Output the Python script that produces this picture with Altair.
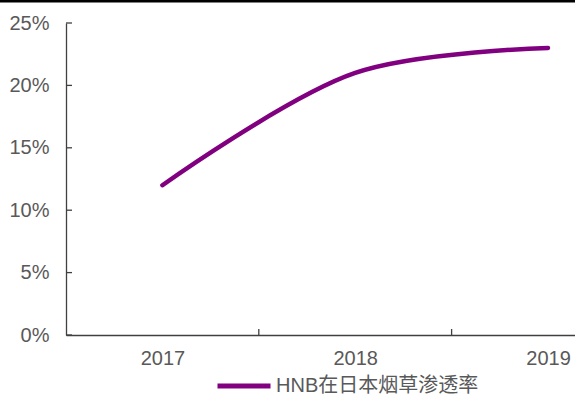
import altair as alt
import pandas as pd

years = [2017, 2018, 2019]
rates = [0.12, 0.21, 0.23]
series_name = "HNB在日本烟草渗透率"
y_ticks = [0, 0.05, 0.10, 0.15, 0.20, 0.25]
x_between_ticks = [2017.5, 2018.5]

W, H = 509, 312
FONT = "Liberation Sans, Arial, Noto Sans CJK SC"
GRAY = "#595959"
AXIS = "#404040"

df = pd.DataFrame({"year": years, "rate": rates, "series": [series_name] * len(years)})

xscale = alt.Scale(domain=[2016.5, 2019.14], nice=False, zero=False)
yscale = alt.Scale(domain=[0, 0.25], nice=False)

line = alt.Chart(df).mark_line(interpolate="catmull-rom", strokeWidth=4.5, strokeCap="round").encode(
    x=alt.X("year:Q", scale=xscale, axis=alt.Axis(
        values=years, format="d", tickSize=0, labelPadding=13, title=None, grid=False,
        domainColor=AXIS, domainWidth=1.3, labelColor=GRAY, labelFontSize=20, labelFont=FONT,
        labelFlush=False)),
    y=alt.Y("rate:Q", scale=yscale, axis=alt.Axis(
        values=y_ticks, format=".0%", tickSize=0, labelPadding=17, title=None, grid=False,
        domainColor=AXIS, domainWidth=1.3, labelColor=GRAY, labelFontSize=20, labelFont=FONT)),
    color=alt.Color("series:N", scale=alt.Scale(range=["#800080"]), legend=alt.Legend(
        title=None, orient="none", legendX=149, legendY=334, symbolType="stroke",
        symbolSize=2809, symbolStrokeWidth=5, labelFontSize=20, labelColor=GRAY,
        labelFont=FONT, labelOffset=3, padding=0, labelLimit=0)),
)

xt = alt.Chart(pd.DataFrame({"x": x_between_ticks})).mark_rule(color=AXIS, strokeWidth=1.3).encode(
    x=alt.X("x:Q", scale=xscale), y=alt.value(H), y2=alt.value(H - 6))

yt = alt.Chart(pd.DataFrame({"y": y_ticks})).mark_rule(color=AXIS, strokeWidth=1.3).encode(
    y=alt.Y("y:Q", scale=yscale), x=alt.value(0), x2=alt.value(6))

topbar = alt.Chart(pd.DataFrame({"a": [0]})).mark_rule(color="black", strokeWidth=3).encode(
    x=alt.value(-66), x2=alt.value(W), y=alt.value(-22))

chart = alt.layer(topbar, xt, yt, line).properties(
    width=W, height=H,
    background="white",
    autosize=alt.AutoSizeParams(type="none"),
    padding={"left": 66, "top": 23, "right": 0, "bottom": 61},
).configure_view(stroke=None)

chart.save("out.html", embed_options={"renderer": "svg", "actions": False})
